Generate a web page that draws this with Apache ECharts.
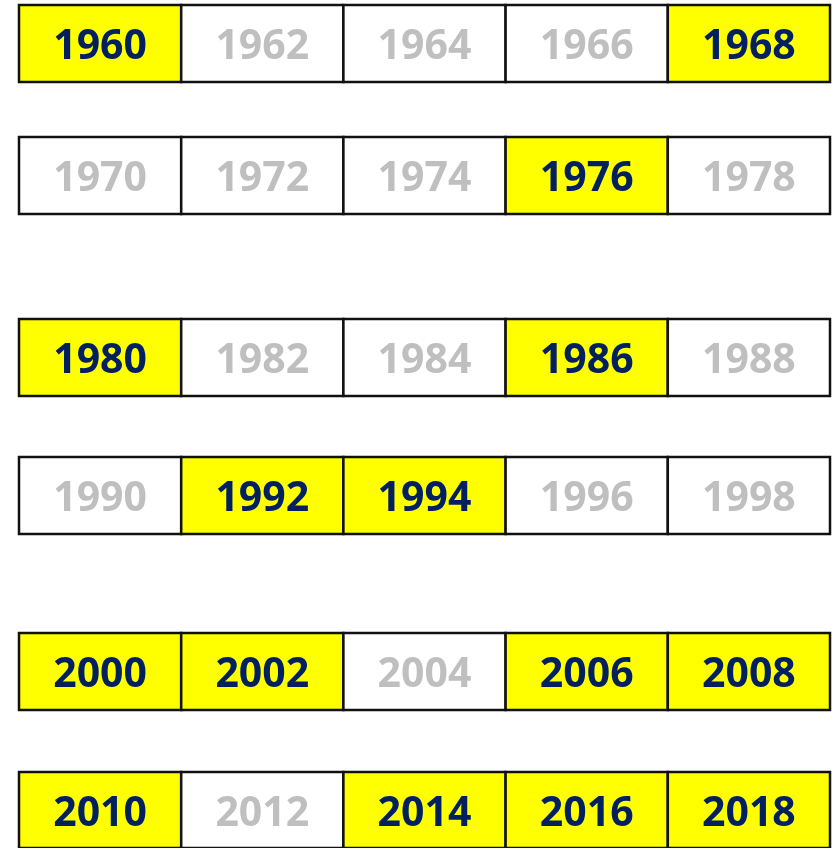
<!DOCTYPE html>
<html>
<head>
<meta charset="utf-8">
<script src="https://cdn.jsdelivr.net/npm/echarts@6/dist/echarts.min.js"></script>
<style>
  html, body { margin: 0; padding: 0; background: #fff; }
  #chart { width: 833px; height: 848px; }
</style>
</head>
<body>
<div id="chart"></div>
<script>
// years, one list per row
const rowYears = [
  [1960, 1962, 1964, 1966, 1968],
  [1970, 1972, 1974, 1976, 1978],
  [1980, 1982, 1984, 1986, 1988],
  [1990, 1992, 1994, 1996, 1998],
  [2000, 2002, 2004, 2006, 2008],
  [2010, 2012, 2014, 2016, 2018]
]
// years marked in yellow
const highlighted = [1960, 1968, 1976, 1980, 1986, 1992, 1994, 2000, 2002, 2006, 2008, 2010, 2014, 2016, 2018]
const columns = ['c1', 'c2', 'c3', 'c4', 'c5']

// layout of each row strip (pixels)
const rowTops = [5, 137, 319, 457, 633, 772]
const rowHeight = 77

const chart = echarts.init(document.getElementById('chart'))

const grids = rowTops.map(top => ({ left: 19, right: 3, top: top, height: rowHeight }))
const xAxes = rowYears.map((_, i) => ({ type: 'category', gridIndex: i, data: columns, show: false }))
const yAxes = rowYears.map((_, i) => ({ type: 'category', gridIndex: i, data: ['r'], show: false }))

const renderCell = (params, api) => {
  const center = api.coord([api.value(0), 0])
  const size = api.size([1, 1])
  const year = api.value(2)
  const on = highlighted.includes(year)
  return {
    type: 'group',
    children: [
      {
        type: 'rect',
        shape: { x: center[0] - size[0] / 2, y: center[1] - size[1] / 2, width: size[0], height: size[1] },
        style: { fill: on ? '#FFFF00' : '#FFFFFF', stroke: '#111111', lineWidth: 2.5 }
      },
      {
        type: 'text',
        x: center[0],
        y: center[1] + 4,
        style: {
          text: String(year),
          fill: on ? '#002060' : '#BFBFBF',
          font: 'bold 41px "Open Sans", Lato, sans-serif',
          align: 'center',
          verticalAlign: 'middle'
        }
      }
    ]
  }
}

const series = rowYears.map((years, i) => ({
  type: 'custom',
  xAxisIndex: i,
  yAxisIndex: i,
  renderItem: renderCell,
  data: years.map((y, c) => [c, 0, y]),
  silent: true
}))

chart.setOption({
  animation: false,
  grid: grids,
  xAxis: xAxes,
  yAxis: yAxes,
  series: series
})
</script>
</body>
</html>
